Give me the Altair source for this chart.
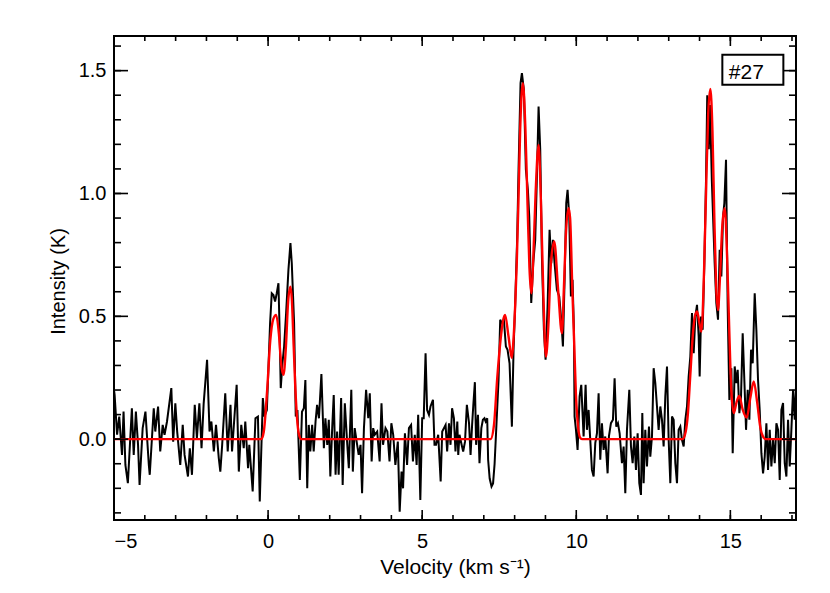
import altair as alt
import pandas as pd

# ---------------- data ----------------
vel = [-5.00, -4.98, -4.90, -4.83, -4.74, -4.69, -4.63, -4.55, -4.42, -4.36, -4.29, -4.22, -4.17,
       -4.07, -3.98, -3.87, -3.84, -3.71, -3.66, -3.57, -3.50, -3.42, -3.36, -3.28, -3.14, -3.08,
       -3.01, -2.95, -2.85, -2.77, -2.71, -2.60, -2.54, -2.47, -2.38, -2.31, -2.23, -2.16, -2.09,
       -1.98, -1.90, -1.84, -1.76, -1.69, -1.60, -1.55, -1.49, -1.39, -1.31, -1.22, -1.17, -1.02,
       -0.95, -0.87, -0.79, -0.74, -0.65, -0.61, -0.50, -0.41, -0.33, -0.27, -0.17, -0.12, -0.04,
       0.065, 0.119, 0.173, 0.227, 0.281, 0.336, 0.368, 0.411, 0.466, 0.52, 0.585, 0.66, 0.725,
       0.769, 0.844, 0.898, 0.952, 1.03, 1.10, 1.16, 1.21, 1.27, 1.32, 1.37, 1.43, 1.48, 1.54,
       1.59, 1.65, 1.73, 1.81, 1.86, 1.92, 1.97, 2.02, 2.08, 2.13, 2.19, 2.24, 2.29, 2.37, 2.42,
       2.49, 2.57, 2.62, 2.70, 2.75, 2.81, 2.89, 2.94, 3.00, 3.05, 3.11, 3.18, 3.25, 3.30, 3.36,
       3.41, 3.46, 3.54, 3.62, 3.68, 3.73, 3.81, 3.87, 3.94, 4.00, 4.06, 4.13, 4.21, 4.27, 4.33,
       4.38, 4.44, 4.51, 4.57, 4.64, 4.70, 4.76, 4.82, 4.87, 4.94, 5.00, 5.05, 5.11, 5.16, 5.22,
       5.27, 5.35, 5.40, 5.45, 5.52, 5.60, 5.65, 5.76, 5.81, 5.87, 5.92, 5.97, 6.03, 6.08, 6.14,
       6.17, 6.21, 6.28, 6.33, 6.39, 6.45, 6.52, 6.57, 6.62, 6.66, 6.71, 6.75, 6.81, 6.86, 6.92,
       6.97, 7.02, 7.06, 7.11, 7.14, 7.19, 7.25, 7.30, 7.35, 7.41, 7.478, 7.532, 7.586, 7.651,
       7.716, 7.770, 7.835, 7.911, 7.965, 8.019, 8.084, 8.127, 8.192, 8.236, 8.300, 8.365, 8.430,
       8.474, 8.539, 8.603, 8.668, 8.723, 8.777, 8.831, 8.885, 8.950, 9.004, 9.069, 9.134, 9.188,
       9.242, 9.296, 9.372, 9.448, 9.513, 9.567, 9.621, 9.675, 9.718, 9.772, 9.826, 9.880, 9.924,
       9.945, 9.99, 10.043, 10.108, 10.162, 10.238, 10.303, 10.346, 10.40, 10.454, 10.508, 10.563,
       10.617, 10.671, 10.725, 10.779, 10.833, 10.887, 10.941, 11.017, 11.06, 11.125, 11.19,
       11.244, 11.298, 11.353, 11.407, 11.482, 11.537, 11.591, 11.645, 11.721, 11.775, 11.829,
       11.883, 11.937, 11.991, 12.045, 12.099, 12.143, 12.186, 12.24, 12.294, 12.359, 12.402,
       12.457, 12.511, 12.565, 12.619, 12.673, 12.727, 12.781, 12.835, 12.889, 12.944, 12.998,
       13.052, 13.106, 13.160, 13.214, 13.268, 13.322, 13.376, 13.43, 13.485, 13.539, 13.593,
       13.647, 13.701, 13.755, 13.81, 13.864, 13.918, 13.972, 14.004, 14.048, 14.102, 14.156,
       14.21, 14.25, 14.30, 14.34, 14.40, 14.491, 14.545, 14.60, 14.654, 14.708, 14.762, 14.805,
       14.859, 14.913, 14.968, 15.033, 15.076, 15.141, 15.195, 15.238, 15.292, 15.346, 15.40,
       15.465, 15.509, 15.563, 15.617, 15.671, 15.725, 15.79, 15.844, 15.898, 15.952, 16.007,
       16.061, 16.115, 16.169, 16.223, 16.277, 16.331, 16.385, 16.44, 16.494, 16.548, 16.602,
       16.656, 16.71, 16.764, 16.818, 16.872, 16.926, 16.98, 17.035, 17.089, 17.13]

inten = [0.20, 0.18, 0.018, 0.092, -0.064, 0.112, -0.105, -0.179, 0.126, -0.064, 0.112, -0.023, -0.186,
         0.045, 0.112, -0.105, -0.145, 0.126, 0.031, 0.133, -0.050, 0.058, 0.018, 0.072, 0.208, -0.010,
         0.146, 0.031, -0.105, 0.058, -0.064, -0.152, -0.037, -0.145, 0.140, 0.004, 0.146, -0.037, 0.146,
         0.323, 0.031, 0.072, -0.050, 0.058, -0.077, -0.132, -0.023, 0.187, -0.050, 0.140, -0.050, 0.221,
         -0.132, 0.058, -0.037, 0.072, -0.118, -0.023, -0.213, 0.085, 0.092, -0.254, 0.167, 0.092, 0.119,
         0.472, 0.594, 0.587, 0.560, 0.594, 0.635, 0.472, 0.208, 0.309, 0.377, 0.513, 0.689, 0.798,
         0.716, 0.472, 0.092, 0.119, -0.166, 0.112, 0.126, 0.241, -0.200, 0.058, -0.050, 0.058, -0.050, 0.072,
         0.140, 0.085, 0.265, -0.037, 0.085, -0.023, 0.079, -0.152, 0.045, 0.180, -0.145, 0.031, -0.145, 0.167, -0.186,
         0.146, -0.023, -0.118, 0.201, -0.132, 0.045, -0.023, -0.064, -0.023, -0.220, 0.045, 0.201, 0.085, 0.187, -0.091,
         0.045, 0.018, 0.031, -0.091, 0.146, -0.023, 0.045, 0.031, -0.091, 0.065, 0.018, -0.105, -0.010, -0.295, -0.132,
         -0.200, 0.024, -0.105, 0.045, 0.058, -0.091, 0.018, -0.105, 0.099, -0.247, 0.085, 0.085, 0.350, 0.119, 0.099,
         0.133, 0.160, -0.023, -0.023, 0.018, -0.172, 0.031, 0.058, -0.050, 0.065, -0.023, 0.126, 0.085, -0.050, 0.072,
         -0.064, 0.018, -0.023, -0.050, -0.010, 0.140, 0.065, -0.064, 0.058, 0.140, 0.232, -0.023, 0.099, -0.098, 0.045,
         0.079, 0.085, 0.072, 0.085, -0.084, -0.160, -0.193, -0.180, -0.100, 0.060, 0.241, 0.486, 0.472, 0.486,
         0.377, 0.364, 0.309, 0.051, 0.364, 0.554, 0.825, 1.097, 1.449, 1.490, 1.422, 1.097, 1.015,
         0.906, 0.554, 0.716, 0.811, 1.069, 1.354, 1.178, 0.744, 0.445, 0.323, 0.540, 0.852, 0.716,
         0.811, 0.716, 0.608, 0.581, 0.486, 0.377, 0.649, 0.961, 1.015, 0.906, 0.581, 0.649, 0.445,
         0.092, 0.038, -0.044, 0.174, 0.221, 0.011, 0.221, 0.038, 0.119, -0.003, -0.125, -0.152,
         -0.016, 0.024, 0.187, -0.084, 0.065, -0.044, 0.011, -0.139, 0.011, 0.065, 0.079,
         0.248, 0.051, 0.065, 0.024, -0.098, -0.030, -0.220, 0.038, 0.201, -0.030, -0.098,
         0.011, -0.125, 0.024, -0.179, -0.227, 0.106, -0.179, 0.038, -0.111, 0.051, -0.071,
         0.011, 0.289, 0.228, 0.133, 0.038, 0.133, 0.079, -0.030, 0.174, 0.296, -0.003,
         -0.179, 0.092, 0.079, -0.098, -0.179, 0.038, 0.051, -0.003, -0.030, 0.079, 0.133,
         0.255, 0.336, 0.513, 0.350, 0.499, 0.547, 0.418, 0.255, 0.499, 0.445, 0.716,
         1.056, 1.40, 1.18, 1.36, 1.05, 0.716, 0.554, 0.486, 0.771, 0.662, 0.906, 0.961,
         1.137, 0.540, 0.160, 0.289, -0.057, 0.296, 0.228, 0.282, 0.106, 0.174, 0.431,
         0.201, 0.038, 0.201, 0.079, 0.364, 0.309, 0.594, 0.445, 0.241, 0.119, -0.057,
         -0.139, -0.071, 0.065, -0.125, 0.038, -0.111, -0.003, -0.098, 0.065, 0.038, -0.166,
         0.119, 0.147, -0.098, -0.152, 0.079, -0.111, 0.038, 0.201, 0.079, 0.214]

fit_vel = [-5.0, -0.22, -0.14, -0.03, 0.07, 0.17, 0.26, 0.35, 0.42, 0.50, 0.58, 0.65, 0.725, 0.77,
           0.83, 0.88, 0.94, 1.00, 1.07, 7.22, 7.33, 7.435, 7.54, 7.62, 7.69, 7.80, 7.91, 7.96,
           8.02, 8.07, 8.13, 8.18, 8.268, 8.35, 8.42, 8.48, 8.54, 8.60, 8.68, 8.777, 8.85, 8.93,
           9.015, 9.09, 9.18, 9.285, 9.41, 9.534, 9.60, 9.67, 9.75, 9.80, 9.87, 9.93, 9.99, 10.06,
           10.13, 10.2, 13.45, 13.55, 13.62, 13.70, 13.78, 13.85, 13.92, 14.00, 14.06, 14.15,
           14.22, 14.28, 14.35, 14.42, 14.48, 14.54, 14.60, 14.66, 14.74, 14.816, 14.90, 14.97,
           15.03, 15.11, 15.20, 15.29, 15.40, 15.53, 15.65, 15.76, 15.87, 15.97, 16.06, 16.15, 17.13]
fit_int = [0.0, 0.0, 0.03, 0.20, 0.40, 0.49, 0.506, 0.43, 0.31, 0.262, 0.38, 0.56, 0.621, 0.57,
           0.38, 0.22, 0.085, 0.02, 0.0, 0.0, 0.058, 0.248, 0.40, 0.48, 0.506, 0.42, 0.33, 0.40,
           0.55, 0.72, 1.0, 1.26, 1.449, 1.26, 0.95, 0.70, 0.594, 0.72, 1.0, 1.198, 0.98, 0.60,
           0.336, 0.45, 0.72, 0.805, 0.61, 0.431, 0.62, 0.85, 0.94, 0.90, 0.62, 0.40, 0.18, 0.05,
           0.005, 0.0, 0.0, 0.03, 0.10, 0.26, 0.42, 0.50, 0.52, 0.47, 0.438, 0.70,
           1.05, 1.32, 1.425, 1.25, 0.90, 0.62, 0.526, 0.65, 0.87, 0.94, 0.72, 0.42,
           0.20, 0.106, 0.15, 0.176, 0.12, 0.088, 0.17, 0.235, 0.15, 0.05, 0.01, 0.0, 0.0]

x_minor = list(range(-5, 18))
x_major = [-5, 0, 5, 10, 15]
y_minor = [-0.3, -0.2, -0.1, 0.0, 0.1, 0.2, 0.3, 0.4, 0.5, 0.6, 0.7, 0.8, 0.9, 1.0,
           1.1, 1.2, 1.3, 1.4, 1.5, 1.6]
y_major = [0.0, 0.5, 1.0, 1.5]
x_domain = [-5, 17.13]
y_domain = [-0.329, 1.641]

tag_text = "#27"
tag_box = {"x": 14.74, "x2": 16.72, "y": 1.443, "y2": 1.565}
tag_pos = {"x": 15.52, "y": 1.466}

# ---------------- chart ----------------
W, H = 682, 484
FONT = "Liberation Sans"
xs = alt.Scale(domain=x_domain, nice=False, zero=False)
ys = alt.Scale(domain=y_domain, nice=False, zero=False)

spec = pd.DataFrame({"v": vel, "t": inten})
fit = pd.DataFrame({"v": fit_vel, "t": fit_int})

x_axis = alt.Axis(values=x_major, format="d", grid=False, ticks=False, tickSize=0, domain=False,
                  labelPadding=11, labelFontSize=20, labelFont=FONT, labelColor="black",
                  title="Velocity (km s⁻¹)", titleFont=FONT, titleFontSize=21,
                  titleFontWeight="normal", titleColor="black", titleBaseline="alphabetic",
                  titleY=53)
y_axis = alt.Axis(values=y_major, format=".1f", grid=False, ticks=False, tickSize=0, domain=False,
                  labelPadding=8, labelFontSize=20, labelFont=FONT, labelColor="black",
                  title="Intensity (K)", titleFont=FONT, titleFontSize=20,
                  titleFontWeight="normal", titleColor="black", titleBaseline="alphabetic",
                  titleX=-50, titleY=245, titleAngle=270)

X = lambda f: alt.X(f, scale=xs, axis=x_axis)
Y = lambda f: alt.Y(f, scale=ys, axis=y_axis)

black = alt.Chart(spec).mark_line(color="black", strokeWidth=2, clip=True).encode(
    x=X("v:Q"), y=Y("t:Q"), order="v:Q")
red = alt.Chart(fit).mark_line(color="#ff0000", strokeWidth=2.4, interpolate="monotone", clip=True).encode(
    x=X("v:Q"), y=Y("t:Q"), order="v:Q")


def xticks(vals, y0, y1):
    return alt.Chart(pd.DataFrame({"v": vals})).mark_rule(color="black", strokeWidth=1.6).encode(
        x=X("v:Q"), y=alt.value(y0), y2=alt.value(y1))


def yticks(vals, x0, x1):
    return alt.Chart(pd.DataFrame({"t": vals})).mark_rule(color="black", strokeWidth=1.6).encode(
        y=Y("t:Q"), x=alt.value(x0), x2=alt.value(x1))


tick_layers = [
    xticks(x_minor, H, H - 5), xticks(x_major, H, H - 10),
    xticks(x_minor, 0, 5), xticks(x_major, 0, 10),
    yticks(y_minor, 0, 7), yticks(y_major, 0, 14),
    yticks(y_minor, W, W - 7), yticks(y_major, W, W - 14),
]

box = alt.Chart(pd.DataFrame([tag_box])).mark_rect(fill="white", stroke="black", strokeWidth=2).encode(
    x=X("x:Q"), x2="x2:Q", y=Y("y:Q"), y2="y2:Q")
tag = alt.Chart(pd.DataFrame([{**tag_pos, "label": tag_text}])).mark_text(
    font=FONT, fontSize=21, color="black", align="center", baseline="alphabetic").encode(
    x=X("x:Q"), y=Y("y:Q"), text="label:N")

chart = alt.layer(black, red, *tick_layers, box, tag).properties(
    width=W, height=H,
    autosize=alt.AutoSizeParams(type="none"),
    padding={"left": 106, "top": 28, "right": 26, "bottom": 65},
    background="white",
).configure_view(stroke="black", strokeWidth=2)

chart.save("out.html", embed_options={"renderer": "svg", "actions": False})
